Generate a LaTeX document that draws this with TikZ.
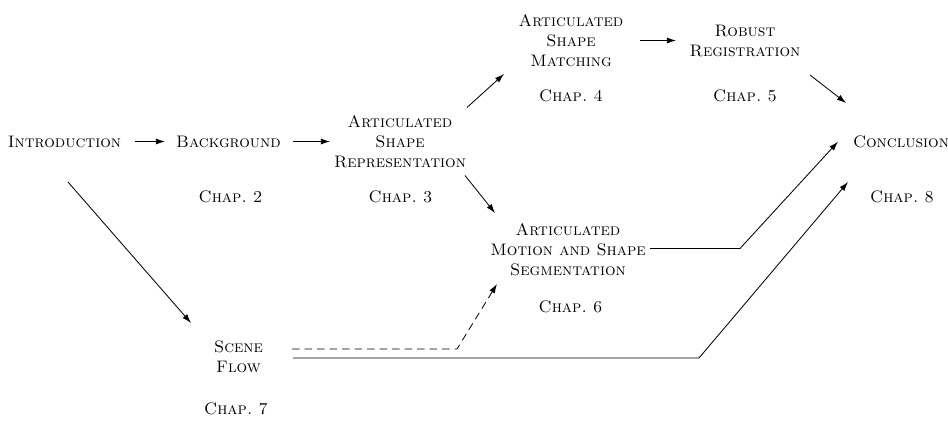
\documentclass[tikz,border=0pt]{standalone}
\usetikzlibrary{arrows.meta,calc}
\begin{document}
\begin{tikzpicture}[x=0.6pt,y=-0.6pt,
  chapter/.style={font=\scshape, align=center, inner sep=0pt},
  chapnum/.style={font=\scshape, inner sep=0pt},
  link/.style={line width=0.5pt},
  flow/.style={link, -{Latex[length=5.5pt,width=3.6pt]}},
  optional/.style={flow, dash pattern=on 4.5pt off 3pt},
]
\useasboundingbox (0,0) rectangle (948,421);

% chapters
\node[chapter] (intro) at (64.5,141.5) {Introduction};
\node[chapter] (bg)    at (228.5,141.5) {Background};
\node[chapter] (asr)   at (400,142) {Articulated\\Shape\\Representation};
\node[chapter] (asm)   at (571,40.5) {Articulated\\Shape\\Matching};
\node[chapter] (rr)    at (745,40.5) {Robust\\Registration};
\node[chapter] (conc)  at (901,141.5) {Conclusion};
\node[chapter] (amss)  at (568,250) {Articulated\\Motion and Shape\\Segmentation};
\node[chapter] (sf)    at (238.5,357) {Scene\\Flow};

% chapter numbers
\node[chapnum] (c2) at (230.5,197) {Chap.~2};
\node[chapnum] (c3) at (400.5,197) {Chap.~3};
\node[chapnum] (c4) at (571,96)    {Chap.~4};
\node[chapnum] (c5) at (745,96)    {Chap.~5};
\node[chapnum] (c6) at (570.5,307) {Chap.~6};
\node[chapnum] (c7) at (236,409)   {Chap.~7};
\node[chapnum] (c8) at (902,197)   {Chap.~8};

% reading order
\draw[flow] ($(intro)+(70.5,0)$) -- ($(bg)+(-63.5,0)$);
\draw[flow] ($(bg)+(64.5,0)$) -- ($(asr)+(-70,-0.5)$);
\draw[flow] ($(asr)+(67,-34.5)$) -- ($(asm)+(-67,33.5)$);
\draw[flow] ($(asr)+(65,33.5)$) -- ($(amss)+(-73,-37)$);
\draw[flow] ($(asm)+(69,0)$) -- ($(rr)+(-69,0)$);
\draw[flow] ($(rr)+(65,34.5)$) -- ($(conc)+(-55,-38.5)$);
\draw[flow] ($(amss)+(82,-1.5)$) -- ++(90,0) -- ($(conc)+(-63,0.2)$);
\draw[flow] ($(intro)+(3.5,40.5)$) -- ($(sf)+(-47.5,-34)$);
\draw[flow] ($(sf)+(54.5,1)$) -- ++(406,0) -- ($(conc)+(-53,40.5)$);
\draw[optional] ($(sf)+(53.5,-8)$) -- ++(165,0) -- ($(amss)+(-71,34)$);
\end{tikzpicture}
\end{document}
